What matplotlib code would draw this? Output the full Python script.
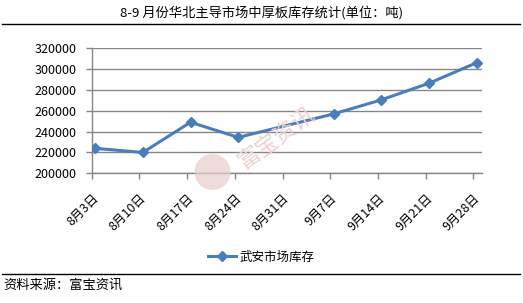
import matplotlib
matplotlib.use("Agg")
import matplotlib.pyplot as plt
from matplotlib.patches import Ellipse
from matplotlib.lines import Line2D

plt.rcParams['font.family'] = ['Noto Sans CJK SC', 'DejaVu Sans']

# data: days since Aug 3 (no reading on Aug 31)
day_offsets = [0, 7, 14, 21, 35, 42, 49, 56]
stock = [224000, 220000, 249000, 234500, 257000, 270500, 286500, 306200]
tick_days = [0, 7, 14, 21, 28, 35, 42, 49, 56]
tick_labels = ["8月3日", "8月10日", "8月17日", "8月24日", "8月31日",
               "9月7日", "9月14日", "9月21日", "9月28日"]
y_ticks = [200000, 220000, 240000, 260000, 280000, 300000, 320000]

title = "8-9 月份华北主导市场中厚板库存统计(单位：吨)"
series_name = "武安市场库存"
source = "资料来源：富宝资讯"

blue = "#4A7EBB"
grey = "#868686"

W, H = 523, 303
fig = plt.figure(figsize=(W / 100, H / 100), dpi=100)
ax = fig.add_axes([0.1753, 0.428, 0.7454, 0.4126])

# watermark (logo disc + name)
fig.patches.append(Ellipse((212.5 / W, 1 - 172 / H), 36 / W, 36 / H,
                           transform=fig.transFigure, color="#e9cccc",
                           alpha=0.7, zorder=0, ec="none"))
fig.text(276 / W, 1 - 138 / H, "富宝资讯", rotation=36, fontsize=16,
         color="#edd0d0", ha="center", va="center", zorder=0)

# Excel date axis: points sit in the middle of each day slot
x = [d + 0.5 for d in day_offsets]
ax.plot(x, stock, color=blue, lw=2.2, marker="D", ms=5.5,
        mec=blue, mfc=blue, zorder=3)

ax.set_xlim(0, 57.2)
ax.set_ylim(200000, 320000)
ax.set_yticks(y_ticks)
ax.set_yticklabels([str(v) for v in y_ticks], fontsize=9)
ax.set_xticks(tick_days)
ax.set_xticklabels(tick_labels, fontsize=9, rotation=45,
                   ha="right", rotation_mode="anchor")
ax.yaxis.grid(True, color=grey, lw=1)
ax.set_axisbelow(True)
ax.patch.set_alpha(0)
for s in ["top", "right"]:
    ax.spines[s].set_visible(False)
for s in ["left", "bottom"]:
    ax.spines[s].set_color(grey)
    ax.spines[s].set_linewidth(1)
ax.tick_params(axis="both", color=grey, length=4, width=1, direction="out")
ax.tick_params(axis="y", pad=7)
ax.tick_params(axis="x", pad=9)

fig.text(0.5, 1 - 13 / H, title, ha="center", va="center", fontsize=9.5)
fig.add_artist(Line2D([2 / W, 520 / W], [1 - 24 / H] * 2,
                      color="black", lw=1, transform=fig.transFigure))

# legend
h = Line2D([], [], color=blue, lw=2.2, marker="D", ms=5, mfc=blue, mec=blue)
fig.legend([h], [series_name], loc="center", bbox_to_anchor=(0.5, 1 - 257 / H),
           frameon=False, fontsize=9, handlelength=2.2, handletextpad=0.3)

fig.add_artist(Line2D([2 / W, 520 / W], [1 - 274 / H] * 2,
                      color="black", lw=1, transform=fig.transFigure))
fig.text(3 / W, 1 - 285 / H, source, ha="left", va="center", fontsize=9.5)

fig.savefig("out.png", dpi=100)
